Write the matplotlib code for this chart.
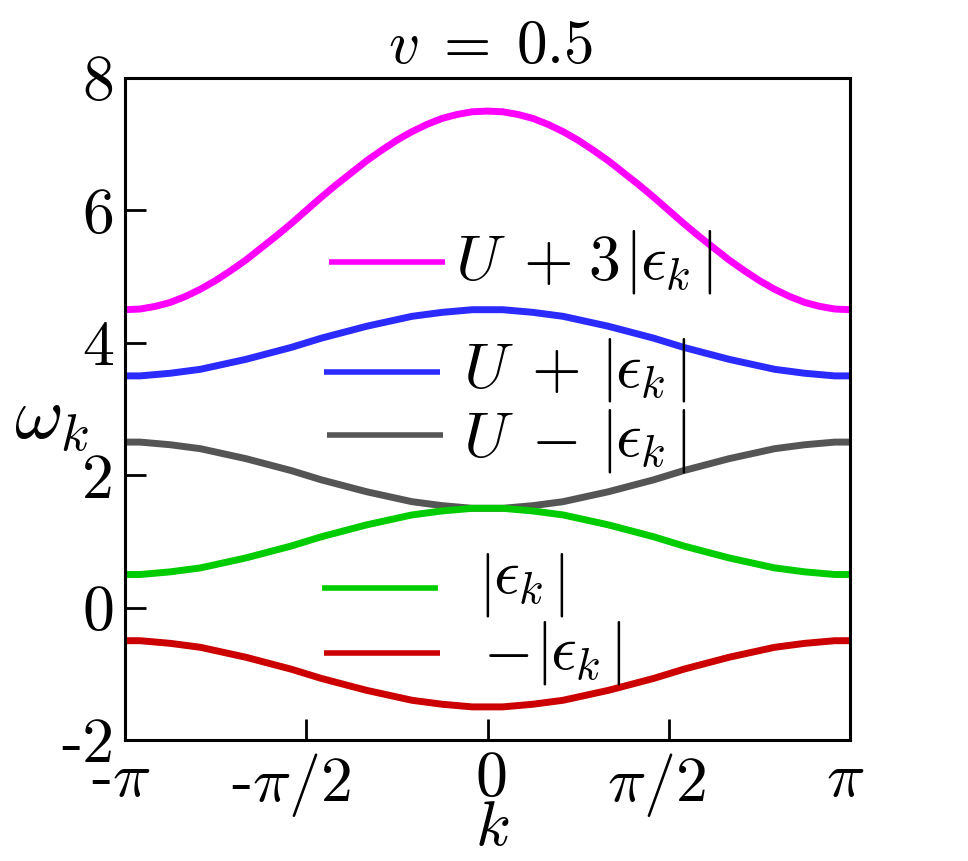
import numpy as np
import matplotlib
matplotlib.use("Agg")
import matplotlib.pyplot as plt
import matplotlib.transforms as mtransforms

plt.rcParams['mathtext.fontset'] = 'cm'
plt.rcParams['font.family'] = 'serif'
plt.rcParams['font.serif'] = ['cmr10', 'DejaVu Serif']
plt.rcParams['axes.unicode_minus'] = False
plt.rcParams['axes.formatter.use_mathtext'] = True

# k grid in units of pi/24
k_steps = list(range(-24, 25))

U_plus_3eps = [4.50, 4.51, 4.55, 4.61, 4.70, 4.81, 4.94, 5.09, 5.25, 5.43, 5.61, 5.80, 6.00,
               6.20, 6.39, 6.57, 6.75, 6.91, 7.06, 7.19, 7.30, 7.39, 7.45, 7.49, 7.50,
               7.49, 7.45, 7.39, 7.30, 7.19, 7.06, 6.91, 6.75, 6.57, 6.39, 6.20, 6.00,
               5.80, 5.61, 5.43, 5.25, 5.09, 4.94, 4.81, 4.70, 4.61, 4.55, 4.51, 4.50]
U_plus_eps = [3.50, 3.50, 3.52, 3.54, 3.57, 3.60, 3.65, 3.70, 3.75, 3.81, 3.87, 3.93, 4.00,
              4.07, 4.13, 4.19, 4.25, 4.30, 4.35, 4.40, 4.43, 4.46, 4.48, 4.50, 4.50,
              4.50, 4.48, 4.46, 4.43, 4.40, 4.35, 4.30, 4.25, 4.19, 4.13, 4.07, 4.00,
              3.93, 3.87, 3.81, 3.75, 3.70, 3.65, 3.60, 3.57, 3.54, 3.52, 3.50, 3.50]
U_minus_eps = [2.50, 2.50, 2.48, 2.46, 2.43, 2.40, 2.35, 2.30, 2.25, 2.19, 2.13, 2.07, 2.00,
               1.93, 1.87, 1.81, 1.75, 1.70, 1.65, 1.60, 1.57, 1.54, 1.52, 1.50, 1.50,
               1.50, 1.52, 1.54, 1.57, 1.60, 1.65, 1.70, 1.75, 1.81, 1.87, 1.93, 2.00,
               2.07, 2.13, 2.19, 2.25, 2.30, 2.35, 2.40, 2.43, 2.46, 2.48, 2.50, 2.50]
abs_eps = [0.50, 0.50, 0.52, 0.54, 0.57, 0.60, 0.65, 0.70, 0.75, 0.81, 0.87, 0.93, 1.00,
           1.07, 1.13, 1.19, 1.25, 1.30, 1.35, 1.40, 1.43, 1.46, 1.48, 1.50, 1.50,
           1.50, 1.48, 1.46, 1.43, 1.40, 1.35, 1.30, 1.25, 1.19, 1.13, 1.07, 1.00,
           0.93, 0.87, 0.81, 0.75, 0.70, 0.65, 0.60, 0.57, 0.54, 0.52, 0.50, 0.50]
neg_abs_eps = [-0.50, -0.50, -0.52, -0.54, -0.57, -0.60, -0.65, -0.70, -0.75, -0.81, -0.87, -0.93, -1.00,
               -1.07, -1.13, -1.19, -1.25, -1.30, -1.35, -1.40, -1.43, -1.46, -1.48, -1.50, -1.50,
               -1.50, -1.48, -1.46, -1.43, -1.40, -1.35, -1.30, -1.25, -1.19, -1.13, -1.07, -1.00,
               -0.93, -0.87, -0.81, -0.75, -0.70, -0.65, -0.60, -0.57, -0.54, -0.52, -0.50, -0.50]

colors = ['#ff00ff', '#2b2bff', '#555555', '#00cc00', '#cc0000']

x_ticks_labels = ['-$\\pi$', '-$\\pi/2$', '$0$', '$\\pi/2$', '$\\pi$']
y_ticks = [-2, 0, 2, 4, 6, 8]
y_tick_labels = ['-2', '0', '2', '4', '6', '8']

k = np.array(k_steps) * np.pi / 24
series = [U_plus_3eps, U_plus_eps, U_minus_eps, abs_eps, neg_abs_eps]

fig = plt.figure(figsize=(9.68, 8.61), dpi=100)
ax = fig.add_axes([125/968, 1 - 740/861, 725/968, 662/861])

for y, c in zip(series, colors):
    ax.plot(k, y, color=c, lw=5, solid_capstyle='butt', clip_on=False)

ax.set_xlim(-np.pi, np.pi)
ax.set_ylim(-2, 8)
ax.set_xticks([-np.pi, -np.pi/2, 0, np.pi/2, np.pi])
ax.set_xticklabels(x_ticks_labels)
ax.set_yticks(y_ticks)
ax.set_yticklabels(y_tick_labels)
ax.tick_params(direction='in', length=15, width=2, labelsize=46)
ax.tick_params(axis='x', pad=8)
ax.tick_params(axis='y', pad=8)
for s in ax.spines.values():
    s.set_linewidth(2.2)

# shift fraction tick labels slightly left, as in the reference
xoffs = [-4, -15, 3, -12, -5]
for lab, dx in zip(ax.get_xticklabels(), xoffs):
    lab.set_transform(lab.get_transform() +
                      mtransforms.ScaledTranslation(dx / 100, 0, fig.dpi_scale_trans))

def fx(px):
    return px / 968
def fy(py):
    return 1 - py / 861

# manual legend: line segments + text pieces placed in figure pixels
leg_lines = [(329, 445, 262), (324, 440, 372), (327, 443, 435), (322, 438, 588), (324, 440, 653)]
# pieces: (text, x px); baseline y px; bar centre y px
leg_pieces = [
    ([('$U$', 455), ('$+$', 523), ('$3$', 588), ('|', 624), ('$\\epsilon_k$', 640), ('|', 700)], 280, 262),
    ([('$U$', 463), ('$+$', 531), ('|', 600), ('$\\epsilon_k$', 615), ('|', 674)], 388, 370),
    ([('$U$', 463), ('$-$', 531), ('|', 600), ('$\\epsilon_k$', 615), ('|', 674)], 457, 441),
    ([('|', 478), ('$\\epsilon_k$', 493), ('|', 552)], 594, 585),
    ([('$-$', 483), ('|', 535), ('$\\epsilon_k$', 550), ('|', 609)], 670, 653),
]

for (x0, x1, yl), c in zip(leg_lines, colors):
    fig.add_artist(plt.Line2D([fx(x0), fx(x1)], [fy(yl), fy(yl)], color=c, lw=4,
                              solid_capstyle='butt', transform=fig.transFigure))

for pieces, base, barc in leg_pieces:
    for txt, xp in pieces:
        if txt == '|':
            fig.text(fx(xp), fy(barc), '$|$', fontsize=46, ha='left', va='center')
        else:
            fig.text(fx(xp), fy(base), txt, fontsize=46, ha='left', va='baseline')

fig.text(fx(52), fy(421), r'$\omega_k$', fontsize=54, ha='center', va='center')
fig.text(fx(492), fy(829), r'$k$', fontsize=46, ha='center', va='center')
fig.text(fx(491), fy(63), r'$v\;=\;0.5$', fontsize=44, ha='center', va='baseline')

fig.savefig('out.png', dpi=100)
